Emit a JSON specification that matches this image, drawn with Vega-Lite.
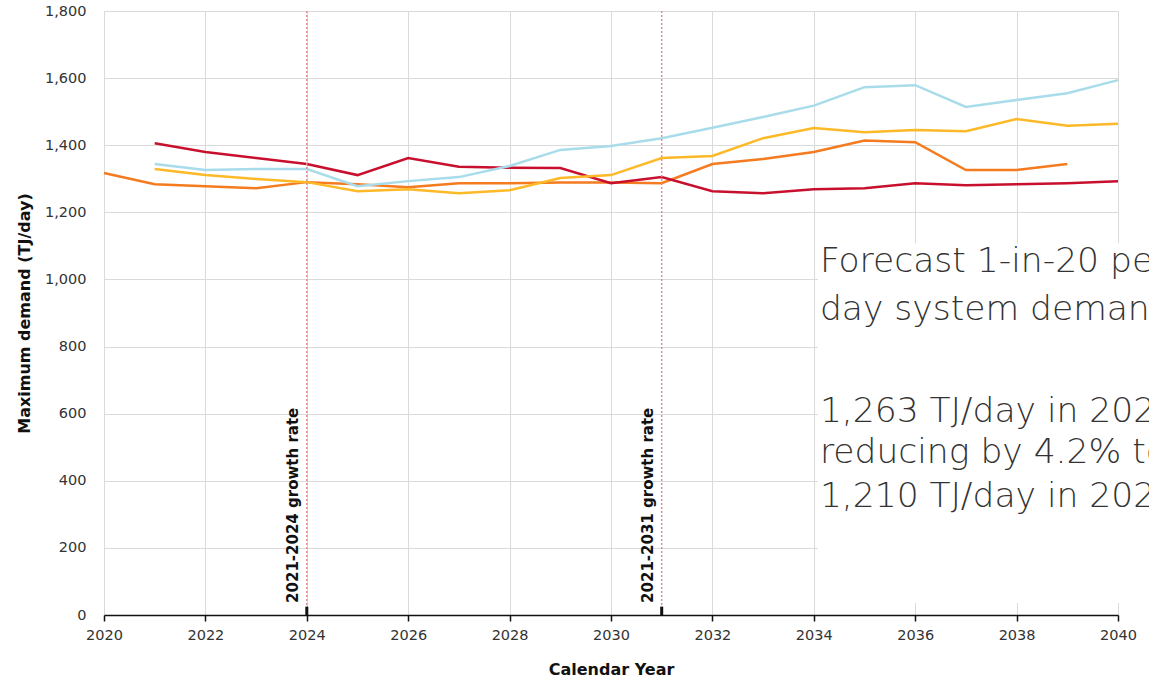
{
  "$schema": "https://vega.github.io/schema/vega-lite/v6.json",
  "width": 1014,
  "height": 604,
  "autosize": {"type": "none"},
  "padding": {"left": 104, "top": 11, "right": 31, "bottom": 69},
  "background": "white",
  "config": {
    "view": {"stroke": null},
    "axis": {
      "gridColor": "#dadada",
      "gridWidth": 1,
      "labelFont": "DejaVu Sans",
      "labelFontSize": 14.5,
      "labelColor": "#333333",
      "titleFont": "DejaVu Sans",
      "titleFontSize": 16,
      "titleFontWeight": "bold",
      "titleColor": "#111111"
    }
  },
  "datasets": {
    "series": [
      {"year": 2020, "value": 1317, "series": "2020 forecast"},
      {"year": 2021, "value": 1284, "series": "2020 forecast"},
      {"year": 2022, "value": 1278, "series": "2020 forecast"},
      {"year": 2023, "value": 1272, "series": "2020 forecast"},
      {"year": 2024, "value": 1290, "series": "2020 forecast"},
      {"year": 2025, "value": 1284, "series": "2020 forecast"},
      {"year": 2026, "value": 1275, "series": "2020 forecast"},
      {"year": 2027, "value": 1287, "series": "2020 forecast"},
      {"year": 2028, "value": 1287, "series": "2020 forecast"},
      {"year": 2029, "value": 1289, "series": "2020 forecast"},
      {"year": 2030, "value": 1289, "series": "2020 forecast"},
      {"year": 2031, "value": 1287, "series": "2020 forecast"},
      {"year": 2032, "value": 1344, "series": "2020 forecast"},
      {"year": 2033, "value": 1359, "series": "2020 forecast"},
      {"year": 2034, "value": 1380, "series": "2020 forecast"},
      {"year": 2035, "value": 1414, "series": "2020 forecast"},
      {"year": 2036, "value": 1409, "series": "2020 forecast"},
      {"year": 2037, "value": 1326, "series": "2020 forecast"},
      {"year": 2038, "value": 1326, "series": "2020 forecast"},
      {"year": 2039, "value": 1344, "series": "2020 forecast"},

      {"year": 2021, "value": 1406, "series": "Actual trend"},
      {"year": 2022, "value": 1380, "series": "Actual trend"},
      {"year": 2023, "value": 1362, "series": "Actual trend"},
      {"year": 2024, "value": 1344, "series": "Actual trend"},
      {"year": 2025, "value": 1311, "series": "Actual trend"},
      {"year": 2026, "value": 1362, "series": "Actual trend"},
      {"year": 2027, "value": 1336, "series": "Actual trend"},
      {"year": 2028, "value": 1333, "series": "Actual trend"},
      {"year": 2029, "value": 1332, "series": "Actual trend"},
      {"year": 2030, "value": 1287, "series": "Actual trend"},
      {"year": 2031, "value": 1305, "series": "Actual trend"},
      {"year": 2032, "value": 1263, "series": "Actual trend"},
      {"year": 2033, "value": 1257, "series": "Actual trend"},
      {"year": 2034, "value": 1269, "series": "Actual trend"},
      {"year": 2035, "value": 1272, "series": "Actual trend"},
      {"year": 2036, "value": 1287, "series": "Actual trend"},
      {"year": 2037, "value": 1281, "series": "Actual trend"},
      {"year": 2038, "value": 1284, "series": "Actual trend"},
      {"year": 2039, "value": 1287, "series": "Actual trend"},
      {"year": 2040, "value": 1293, "series": "Actual trend"},

      {"year": 2021, "value": 1329, "series": "Central"},
      {"year": 2022, "value": 1311, "series": "Central"},
      {"year": 2023, "value": 1299, "series": "Central"},
      {"year": 2024, "value": 1290, "series": "Central"},
      {"year": 2025, "value": 1263, "series": "Central"},
      {"year": 2026, "value": 1269, "series": "Central"},
      {"year": 2027, "value": 1257, "series": "Central"},
      {"year": 2028, "value": 1266, "series": "Central"},
      {"year": 2029, "value": 1302, "series": "Central"},
      {"year": 2030, "value": 1311, "series": "Central"},
      {"year": 2031, "value": 1362, "series": "Central"},
      {"year": 2032, "value": 1368, "series": "Central"},
      {"year": 2033, "value": 1421, "series": "Central"},
      {"year": 2034, "value": 1451, "series": "Central"},
      {"year": 2035, "value": 1439, "series": "Central"},
      {"year": 2036, "value": 1445, "series": "Central"},
      {"year": 2037, "value": 1442, "series": "Central"},
      {"year": 2038, "value": 1478, "series": "Central"},
      {"year": 2039, "value": 1458, "series": "Central"},
      {"year": 2040, "value": 1464, "series": "Central"},

      {"year": 2021, "value": 1344, "series": "High"},
      {"year": 2022, "value": 1326, "series": "High"},
      {"year": 2023, "value": 1329, "series": "High"},
      {"year": 2024, "value": 1329, "series": "High"},
      {"year": 2025, "value": 1278, "series": "High"},
      {"year": 2026, "value": 1293, "series": "High"},
      {"year": 2027, "value": 1305, "series": "High"},
      {"year": 2028, "value": 1338, "series": "High"},
      {"year": 2029, "value": 1386, "series": "High"},
      {"year": 2030, "value": 1398, "series": "High"},
      {"year": 2031, "value": 1421, "series": "High"},
      {"year": 2032, "value": 1452, "series": "High"},
      {"year": 2033, "value": 1484, "series": "High"},
      {"year": 2034, "value": 1518, "series": "High"},
      {"year": 2035, "value": 1573, "series": "High"},
      {"year": 2036, "value": 1579, "series": "High"},
      {"year": 2037, "value": 1514, "series": "High"},
      {"year": 2038, "value": 1535, "series": "High"},
      {"year": 2039, "value": 1555, "series": "High"},
      {"year": 2040, "value": 1594, "series": "High"}
    ],
    "markers": [
      {"year": 2024, "label": "2021-2024 growth rate", "value": 36, "value2": 0, "tick": 25},
      {"year": 2031, "label": "2021-2031 growth rate", "value": 36, "value2": 0, "tick": 25}
    ],
    "box": [
      {"year": 2034.08, "year2": 2042, "value": 36, "value2": 1108}
    ],
    "notes": [
      {"year": 2034.12, "value": 1022, "text": "Forecast 1-in-20 peak"},
      {"year": 2034.12, "value": 879, "text": "day system demand"},
      {"year": 2034.12, "value": 575, "text": "1,263 TJ/day in 2024"},
      {"year": 2034.12, "value": 453, "text": " reducing by 4.2% to"},
      {"year": 2034.12, "value": 322, "text": "1,210 TJ/day in 2028"}
    ]
  },
  "layer": [
    {
      "data": {"name": "series"},
      "mark": {"type": "line", "strokeWidth": 2.5, "interpolate": "linear"},
      "encoding": {
        "x": {
          "field": "year", "type": "quantitative",
          "scale": {"domain": [2020, 2040], "nice": false, "zero": false},
          "axis": {
            "title": "Calendar Year",
            "values": [2020, 2022, 2024, 2026, 2028, 2030, 2032, 2034, 2036, 2038, 2040],
            "format": "d",
            "domain": true, "domainColor": "#111111", "domainWidth": 1.5,
            "ticks": true, "tickColor": "#111111", "tickSize": 6, "tickWidth": 1.5,
            "labelPadding": 7, "titlePadding": 20, "labelFlush": false
          }
        },
        "y": {
          "field": "value", "type": "quantitative",
          "scale": {"domain": [0, 1800], "nice": false},
          "axis": {
            "title": "Maximum demand (TJ/day)",
            "values": [0, 200, 400, 600, 800, 1000, 1200, 1400, 1600, 1800],
            "format": ",d",
            "domain": false, "ticks": false,
            "labelPadding": 18, "titlePadding": 12
          }
        },
        "color": {
          "field": "series", "type": "nominal",
          "scale": {
            "domain": ["2020 forecast", "Actual trend", "Central", "High"],
            "range": ["#f47b20", "#c8102e", "#fdb927", "#a8dcea"]
          },
          "legend": null
        }
      }
    },
    {
      "data": {"name": "markers"},
      "mark": {"type": "rule", "color": "#e48a94", "strokeWidth": 1.5, "strokeDash": [2, 2]},
      "encoding": {
        "x": {"field": "year", "type": "quantitative"}
      }
    },
    {
      "data": {"name": "markers"},
      "mark": {"type": "rule", "color": "#111111", "strokeWidth": 3},
      "encoding": {
        "x": {"field": "year", "type": "quantitative"},
        "y": {"field": "value2", "type": "quantitative"},
        "y2": {"field": "tick"}
      }
    },
    {
      "data": {"name": "markers"},
      "mark": {
        "type": "text", "angle": 270, "align": "left", "baseline": "bottom",
        "dy": -6, "font": "DejaVu Sans", "fontWeight": "bold", "fontSize": 15, "color": "#111111"
      },
      "encoding": {
        "x": {"field": "year", "type": "quantitative"},
        "y": {"field": "value", "type": "quantitative"},
        "text": {"field": "label"}
      }
    },
    {
      "data": {"name": "box"},
      "mark": {"type": "rect", "color": "white", "opacity": 1},
      "encoding": {
        "x": {"field": "year", "type": "quantitative"},
        "x2": {"field": "year2"},
        "y": {"field": "value", "type": "quantitative"},
        "y2": {"field": "value2"}
      }
    },
    {
      "data": {"name": "notes"},
      "mark": {
        "type": "text", "align": "left", "baseline": "alphabetic",
        "font": "DejaVu Sans", "fontWeight": 200, "fontSize": 34.5, "color": "#333333"
      },
      "encoding": {
        "x": {"field": "year", "type": "quantitative"},
        "y": {"field": "value", "type": "quantitative"},
        "text": {"field": "text"}
      }
    }
  ]
}
